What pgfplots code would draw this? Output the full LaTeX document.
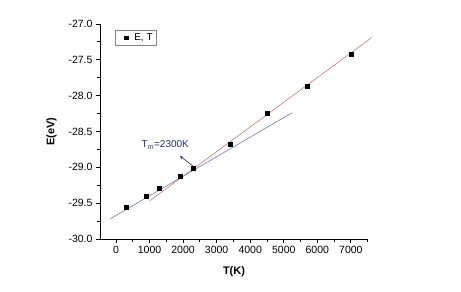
\documentclass[border=0pt]{standalone}
\usepackage{fontspec}
\setmainfont{Liberation Sans}
\setsansfont{Liberation Sans}
\usepackage{pgfplots}
\pgfplotsset{compat=1.18}
\usetikzlibrary{arrows.meta}
\definecolor{fitred}{RGB}{205,120,115}
\definecolor{fitblue}{RGB}{110,120,185}
\definecolor{annblue}{RGB}{35,45,140}
\begin{document}
\begin{tikzpicture}
\path[use as bounding box] (-100pt,-53pt) rectangle (361pt,239pt);
\begin{axis}[
  scale only axis, width=268pt, height=215pt,
  at={(0pt,0pt)}, anchor=south west,
  xmin=-476, xmax=7510, ymin=-30, ymax=-27,
  axis x line*=bottom, axis y line*=left,
  axis line style={line width=0.9pt, -},
  xtick={0,1000,...,7000}, minor xtick={500,1500,...,7500},
  ytick={-30,-29.5,...,-27}, minor ytick={-29.75,-29.25,...,-27.25},
  yticklabel style={/pgf/number format/fixed,/pgf/number format/fixed zerofill,/pgf/number format/precision=1},
  /pgf/number format/assume math mode=true,
  xticklabel style={/pgf/number format/1000 sep={}},
  tick label style={font=\fontsize{10.5}{12}\selectfont},
  major tick length=4pt, minor tick length=3pt,
  major tick style={line width=0.9pt, black},
  minor tick style={line width=0.9pt, black},
  tick align=outside,
  xlabel={\textbf{T(K)}}, ylabel={\textbf{E(eV)}},
  label style={font=\fontsize{11}{13}\selectfont},
  xlabel style={yshift=-6pt},
  ylabel style={yshift=5pt},
  legend style={at={(0.056,0.972)}, anchor=north west, draw=gray, line width=0.6pt,
    font=\fontsize{10}{12}\selectfont, inner xsep=2pt, inner ysep=1.5pt, row sep=0pt},
  legend cell align=left,
  legend image code/.code={\path[draw=none,fill=none] (0pt,0pt) -- (15pt,0pt); \draw[#1, mark size=1.6pt] plot coordinates {(9pt,0pt)};},
  clip=false,
]
\addplot[fitred, line width=0.6pt, forget plot] coordinates {(1000,-29.47) (7620,-27.19)};
\addplot[fitblue, line width=0.6pt, forget plot] coordinates {(-180,-29.72) (5240,-28.24)};
\addplot[only marks, mark=square*, mark size=2pt, black] coordinates {
(300,-29.56) (900,-29.40) (1300,-29.29) (1900,-29.13) (2300,-29.01)
(3400,-28.68) (4500,-28.25) (5700,-27.87) (7000,-27.42)};
\addlegendentry{E, T}
\draw[annblue, line width=0.6pt, -{Stealth[length=4pt]}] (axis cs:2290,-28.98) -- (axis cs:1900,-28.84);
\node[annblue, font=\fontsize{10}{12}\selectfont] at (axis cs:1470,-28.69) {T$_{\mathrm{m}}$=2300K};
\end{axis}
\end{tikzpicture}
\end{document}
